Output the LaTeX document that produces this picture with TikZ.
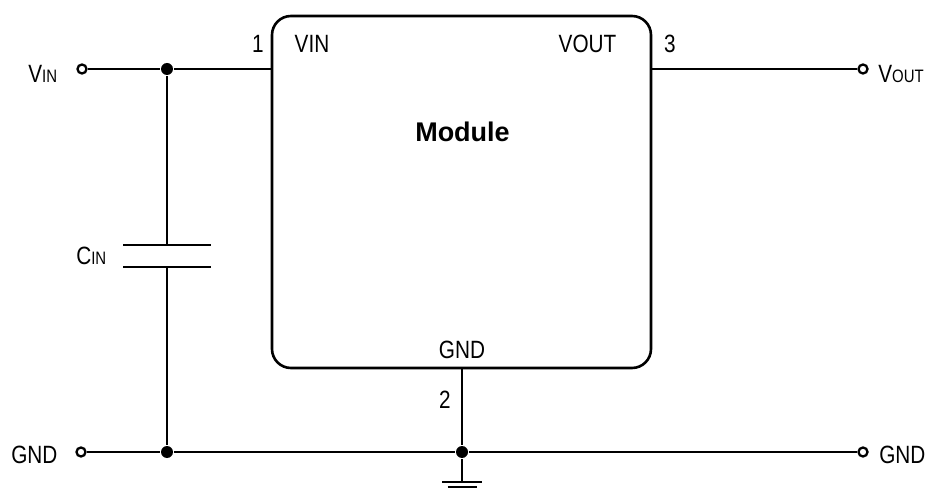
\documentclass[tikz,border=0pt]{standalone}
\usepackage{fontspec}
\setmainfont{Liberation Sans}[FakeStretch=0.83]
\newfontfamily\modfont{Liberation Sans}
\usetikzlibrary{positioning}

\newcommand{\sub}[1]{{\fontsize{18}{18}\selectfont #1}}

\begin{document}
\begin{tikzpicture}[x=1pt,y=-1pt, line width=2.6pt,
 font=\fontsize{25}{27}\selectfont,
 module/.style={draw,rounded corners=19pt,minimum width=379pt,minimum height=352pt,inner sep=0pt},
 term/.style={circle,draw,fill=white,line width=2.3pt,minimum size=9pt,inner sep=0pt},
 dot/.style={circle,fill,minimum size=12pt,inner sep=0pt},
 lbl/.style={anchor=base,inner sep=0pt},
 side/.style={anchor=base west,inner sep=0pt},
 ]
 \useasboundingbox (0,0) rectangle (927,489);

 \node[module] (M) at (461.5,192) {};
 \node[lbl,font=\modfont\fontsize{27}{29}\selectfont\bfseries] (name) at (462.5,142) {Module};
 \node[lbl] (vin) at (312,53) {VIN};
 \node[lbl] (vout) at (587.5,53) {VOUT};
 \node[lbl] (gnd) at (462,358) {GND};
 \node[lbl] (p1) at (258,53) {1};
 \node[lbl] (p3) at (670,53) {3};
 \node[lbl] (p2) at (445,408) {2};

 % terminals and junctions
 \coordinate (pin1) at (272,69);
 \coordinate (pin3) at (651,69);
 \coordinate (pin2) at (462,368);
 \coordinate (ctop) at (167,245);
 \coordinate (cbot) at (167,267);
 \coordinate (gsym) at (462,482);
 \node[dot] (j1) at (167,69) {};
 \node[dot] (j2) at (167,452) {};
 \node[dot] (j3) at (462,452) {};

 \draw (j1) -- (pin1);
 \draw (j1) -- (ctop);
 \draw (cbot) -- (j2);
 \draw (pin2) -- (j3);
 \draw (j3) -- (gsym);
 \draw ([xshift=-44pt]ctop) -- ([xshift=44pt]ctop);
 \draw ([xshift=-44pt]cbot) -- ([xshift=44pt]cbot);
 \draw ([xshift=-20pt]gsym) -- ([xshift=20pt]gsym);
 \draw ([xshift=-14.5pt,yshift=-5pt]gsym) -- ([xshift=14.5pt,yshift=-5pt]gsym);

 \node[term] (tin) at (82,69) {};
 \node[term] (tout) at (863,69) {};
 \node[term] (tgl) at (81,452) {};
 \node[term] (tgr) at (863,452) {};
 \draw (tin) -- (j1);
 \draw (pin3) -- (tout);
 \draw (tgl) -- (j2) -- (j3) -- (tgr);

 \node[side] (lvin) at (27,83) {V\sub{IN}};
 \node[side] (lvout) at (877,83) {V\sub{OUT}};
 \node[side] (lgl) at (10,463) {GND};
 \node[side] (lgr) at (878,463) {GND};
 \node[side] (lcin) at (75,265) {C\sub{IN}};

\end{tikzpicture}
\end{document}
